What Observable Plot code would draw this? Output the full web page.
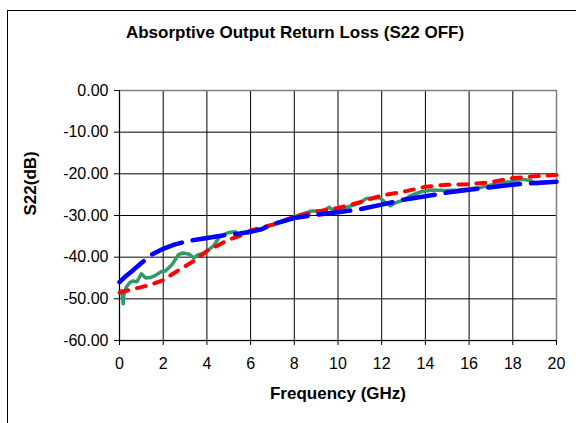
<!DOCTYPE html>
<html>
<head>
<meta charset="utf-8">
<script src="https://cdn.jsdelivr.net/npm/d3@7"></script>
<script src="https://cdn.jsdelivr.net/npm/@observablehq/plot@0.6"></script>
<style>
  html, body { margin: 0; padding: 0; background: #fff; }
  #wrap { position: relative; width: 576px; height: 423px; overflow: hidden; font-family: "Liberation Sans", Arial, sans-serif; background: #fff; }
  #frame { position: absolute; left: 7px; top: 10px; width: 620px; height: 480px; border: 1px solid #000; box-sizing: border-box; }
  #title { position: absolute; left: 7px; width: 576px; top: 24px; text-align: center; font-weight: bold; font-size: 17px; line-height: 17px; color: #000; }
  #chart { position: absolute; left: 0; top: 0; }
</style>
</head>
<body>
<div id="wrap">
  <div id="frame"></div>
  <div id="title">Absorptive Output Return Loss (S22 OFF)</div>
  <div id="chart"></div>
</div>
<script>
// Axis ticks
const xTicks = [0, 2, 4, 6, 8, 10, 12, 14, 16, 18, 20];
const yTicks = [0, -10, -20, -30, -40, -50, -60];

// Blue long-dash series
const freqBlue = [0, 0.3, 0.65, 1.0, 1.5, 2.0, 2.5, 3.0, 3.5, 4.0, 4.5, 5.0, 5.5, 6.0, 6.5, 7.0, 8.0, 9.0, 10.0, 11.0, 12.0, 13.0, 14.0, 15.0, 16.0, 17.0, 18.0, 19.0, 20.0];
const s22Blue  = [-46, -44.5, -43, -41.4, -39.3, -38, -37, -36.3, -35.8, -35.4, -35, -34.6, -34.3, -33.9, -33.3, -32.1, -30.6, -29.8, -29.2, -28.5, -27.4, -26.2, -25.4, -24.5, -23.8, -23.2, -22.6, -22.2, -21.9];

// Red short-dash series
const freqRed = [0, 0.5, 1.0, 1.5, 2.0, 2.5, 3.0, 3.5, 4.0, 4.5, 5.0, 5.5, 6.0, 6.5, 7.0, 8.0, 9.0, 10.0, 11.0, 12.0, 13.0, 14.0, 15.0, 16.0, 17.0, 18.0, 19.0, 20.0];
const s22Red  = [-48.5, -47.8, -47.2, -46.5, -45.5, -43.8, -42.2, -40.6, -38.5, -37.2, -35.8, -34.9, -33.6, -32.9, -32.2, -30.3, -29.1, -28.2, -26.8, -25.2, -24.3, -23.1, -22.6, -22.5, -22.0, -21.0, -20.6, -20.3];

// Green measured (solid) series
const freqGreen = [0.1, 0.17, 0.2, 0.3, 0.45, 0.6, 0.8, 1.0, 1.2, 1.4, 1.6, 1.9, 2.1, 2.4, 2.7, 2.9, 3.2, 3.4, 3.6, 3.9, 4.3, 4.6, 5.0, 5.3, 5.4, 5.7, 6.0, 6.5, 6.8, 7.6, 8.0, 8.8, 9.3, 9.6, 9.8, 10.0, 10.6, 11.0, 11.3, 11.9, 12.2, 12.4, 12.6, 13.0, 13.3, 13.8, 14.3, 14.9, 15.5, 16.4, 17.0, 17.3, 17.9, 18.4, 18.8, 19.1, 19.3, 19.6, 20.0];
const s22Green  = [-48, -51.2, -49, -47.3, -46.2, -45.7, -45.9, -44, -45, -44.9, -44.5, -43.5, -43.3, -41.8, -39.4, -39, -39.3, -40.2, -39.4, -39, -37.3, -34.9, -34.1, -33.9, -34.5, -34.2, -34, -33.2, -32.6, -31.3, -30.3, -28.9, -28.9, -28, -28.9, -28.6, -27.7, -27, -25.9, -25.7, -27, -27.7, -27, -26.3, -25.3, -24.3, -23.9, -24, -23.9, -23.4, -22.7, -22.2, -21.9, -21.3, -21.6, -22.4, -22.2, -22.1, -21.9];

const toRows = (fs, vs) => fs.map((f, i) => ({f, v: vs[i]}));
const blue = toRows(freqBlue, s22Blue);
const red = toRows(freqRed, s22Red);
const green = toRows(freqGreen, s22Green);

const chart = Plot.plot({
  width: 576,
  height: 423,
  marginLeft: 119,
  marginRight: 20,
  marginTop: 90,
  marginBottom: 83,
  style: {fontFamily: "'Liberation Sans', Arial, sans-serif", fontSize: "16px", color: "#000", background: "transparent", overflow: "visible"},
  x: {domain: [0, 20]},
  y: {domain: [-60, 0]},
  marks: [
    Plot.gridX(xTicks, {stroke: "#000", strokeOpacity: 1, strokeWidth: 1}),
    Plot.gridY(yTicks, {stroke: "#000", strokeOpacity: 1, strokeWidth: 1}),
    Plot.frame({stroke: "#808080", strokeWidth: 1.5}),
    Plot.ruleX([0], {stroke: "#000"}),
    Plot.ruleY([-60], {stroke: "#000"}),
    Plot.axisX(xTicks, {tickSize: 5, tickPadding: 12, label: null, fontSize: 16}),
    Plot.axisY(yTicks, {tickSize: 5, tickPadding: 6, tickFormat: d => d.toFixed(2), label: null, fontSize: 16}),
    Plot.line(green, {x: "f", y: "v", stroke: "#339966", strokeWidth: 3.5, curve: "linear"}),
    Plot.line(red, {x: "f", y: "v", stroke: "#ff0000", strokeWidth: 4, strokeDasharray: "9,9"}),
    Plot.line(blue, {x: "f", y: "v", stroke: "#0000ff", strokeWidth: 4.5, strokeDasharray: "32,11"}),
    Plot.text(["Frequency (GHz)"], {text: d => d, frameAnchor: "bottom", dy: 58, fontWeight: "bold", fontSize: 17}),
    Plot.text(["S22(dB)"], {text: d => d, frameAnchor: "left", dx: -89, rotate: -90, fontWeight: "bold", fontSize: 17})
  ]
});
document.getElementById("chart").appendChild(chart);
</script>
</body>
</html>
